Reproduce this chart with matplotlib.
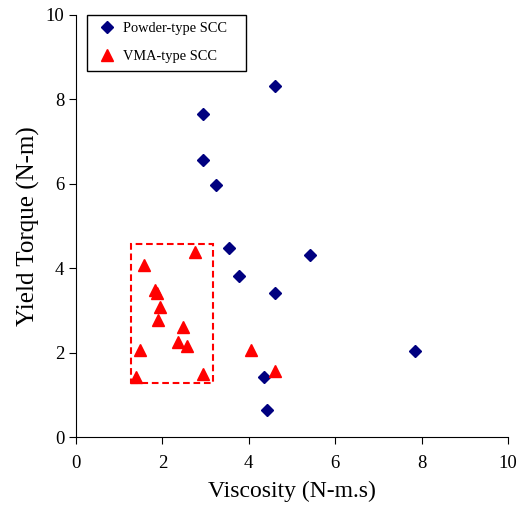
import matplotlib
matplotlib.use("Agg")
import matplotlib.pyplot as plt
from matplotlib.patches import Rectangle

plt.rcParams['font.family'] = ['Liberation Serif', 'DejaVu Serif']

# powder-type SCC (viscosity, yield torque)
powder_visc = [4.60, 2.95, 2.95, 3.24, 3.55, 5.42, 3.78, 4.61, 7.85, 4.36, 4.42]
powder_torque = [8.32, 7.64, 6.55, 5.96, 4.48, 4.30, 3.81, 3.41, 2.03, 1.43, 0.64]

# VMA-type SCC
vma_visc = [2.75, 1.58, 1.83, 1.88, 1.94, 1.89, 2.48, 2.37, 2.58, 1.48, 1.40, 2.93, 4.04, 4.61]
vma_torque = [4.38, 4.07, 3.48, 3.40, 3.07, 2.78, 2.61, 2.24, 2.16, 2.06, 1.43, 1.49, 2.06, 1.56]

# dashed box around the VMA cluster
box_x = [1.27, 3.16]
box_y = [1.27, 4.56]

fig = plt.figure(figsize=(5.28, 5.07), dpi=100)
ax = fig.add_axes([0.144, 0.138, 0.818, 0.833])

ax.plot(powder_visc, powder_torque, linestyle='none', marker='D', ms=6.2,
        color='#000080', label='Powder-type SCC')
ax.plot(vma_visc, vma_torque, linestyle='none', marker='^', ms=9,
        color='#ff0000', label='VMA-type SCC')

ax.add_patch(Rectangle((box_x[0], box_y[0]), box_x[1] - box_x[0], box_y[1] - box_y[0],
                       fill=False, edgecolor='#ff0000', linestyle=(0, (3.2, 1.8)), linewidth=1.5))

ax.set_xlim(0, 10)
ax.set_ylim(0, 10)
ax.set_xticks([0, 2, 4, 6, 8, 10])
ax.set_yticks([0, 2, 4, 6, 8, 10])
ax.spines['top'].set_visible(False)
ax.spines['right'].set_visible(False)
ax.tick_params(direction='out', length=5, labelsize=13.5)
ax.tick_params(axis='x', pad=8)
ax.set_xlabel('Viscosity (N-m.s)', fontsize=17, labelpad=6)
ax.set_ylabel('Yield Torque (N-m)', fontsize=18, labelpad=4)

leg = ax.legend(loc='upper left', bbox_to_anchor=(0.025, 1.0, 0.368, 0), mode='expand',
                borderaxespad=0, fontsize=10.4, fancybox=False, edgecolor='black',
                framealpha=1, borderpad=0.5, labelspacing=1.05, handletextpad=0.2,
                handlelength=1.8)
leg.get_frame().set_linewidth(1.0)

fig.savefig('out.png', dpi=100)
